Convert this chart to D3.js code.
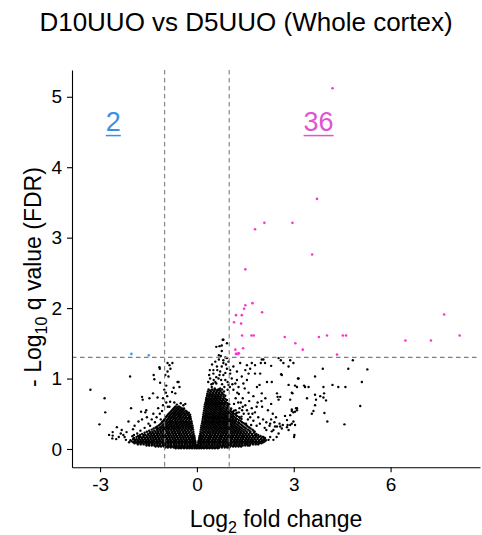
<!DOCTYPE html>
<html>
<head>
<meta charset="utf-8">
<script src="https://d3js.org/d3.v7.min.js"></script>
<style>
 body {margin: 0; background: #fff;}
 text {font-family: 'Liberation Sans', Arial, sans-serif;}
</style>
</head>
<body onload="init()">
<svg width=482 height=535></svg>
<script>

// axis ticks
const xTicks = [-3, 0, 3, 6];
const yTicks = [0, 1, 2, 3, 4, 5];

// cut-offs (log2 FC and -log10 FDR)
const fcCut = [-1, 1];
const qCut = 1.301;

// significant genes, [log2FC, -log10 q]
const upPts = [
 [4.20,5.12],[3.72,3.55],[2.09,3.21],[2.96,3.21],[1.80,3.12],[3.57,2.76],[1.50,2.55],
 [1.72,2.07],[1.50,2.04],[1.46,1.99],[1.21,1.90],[1.39,1.90],[2.02,1.94],[1.15,1.80],
 [1.37,1.78],[7.66,1.91],[1.40,1.61],[1.69,1.61],[1.76,1.61],[2.72,1.59],[3.78,1.59],
 [4.03,1.61],[4.52,1.61],[4.62,1.61],[6.46,1.54],[7.25,1.54],[8.14,1.61],[3.05,1.50],
 [3.28,1.41],[1.19,1.41],[1.43,1.43],[1.21,1.35],[1.27,1.35],[4.34,1.34],[1.24,1.35],
 [1.30,1.36]
];
const downPts = [[-2.03,1.35],[-1.49,1.33]];

// non-significant genes: dense core read row by row, [-log10 q, [log2FC...]]
const denseRows = [
 [0.01,[-0.66,-0.57,-0.49,-0.4,-0.31,-0.23,-0.15,-0.07,0,0.07,0.14,0.22,0.31,0.39,0.48,0.56,0.65]],
 [0.022,[-0.98,-0.9,-0.81,-0.72,-0.64,-0.55,-0.47,-0.38,-0.3,-0.22,-0.14,-0.06,0.02,0.1,0.18,0.26,0.35,0.43,0.52,0.6,0.69,0.77,0.86,0.94,1.0]],
 [0.035,[-1.28,-1.19,-1.11,-1.02,-0.94,-0.85,-0.77,-0.68,-0.6,-0.51,-0.43,-0.35,-0.26,-0.18,-0.1,-0.03,0.03,0.1,0.18,0.27,0.35,0.44,0.52,0.61,0.69,0.78,0.86,0.95,1.03,1.12,1.2,1.29,1.37]],
 [0.05,[-1.56,-1.48,-1.4,-1.32,-1.23,-1.15,-1.06,-0.98,-0.89,-0.81,-0.72,-0.64,-0.55,-0.47,-0.39,-0.3,-0.22,-0.14,-0.07,-0.02,0.02,0.07,0.14,0.23,0.31,0.4,0.48,0.57,0.65,0.74,0.82,0.91,0.99,1.08,1.16,1.25,1.33,1.42,1.5,1.58,1.63]],
 [0.065,[-1.83,-1.74,-1.65,-1.56,-1.48,-1.39,-1.31,-1.22,-1.14,-1.05,-0.97,-0.88,-0.8,-0.71,-0.63,-0.54,-0.46,-0.37,-0.29,-0.2,-0.12,-0.04,0.04,0.12,0.2,0.29,0.37,0.46,0.54,0.63,0.71,0.8,0.88,0.97,1.05,1.14,1.22,1.31,1.39,1.48,1.56,1.65,1.74,1.82,1.9]],
 [0.08,[-1.93,-1.84,-1.75,-1.66,-1.57,-1.49,-1.4,-1.32,-1.23,-1.15,-1.06,-0.98,-0.89,-0.81,-0.72,-0.64,-0.55,-0.47,-0.38,-0.3,-0.21,-0.13,-0.06,0.06,0.13,0.21,0.3,0.38,0.47,0.55,0.64,0.72,0.81,0.89,0.98,1.06,1.15,1.23,1.32,1.4,1.49,1.57,1.66,1.74,1.83,1.92,2.0]],
 [0.095,[-2.1,-1.97,-1.88,-1.79,-1.7,-1.61,-1.53,-1.44,-1.36,-1.27,-1.19,-1.1,-1.02,-0.93,-0.85,-0.76,-0.68,-0.59,-0.51,-0.42,-0.34,-0.25,-0.17,-0.09,-0.045,0.045,0.09,0.17,0.25,0.34,0.42,0.51,0.59,0.68,0.76,0.85,0.93,1.02,1.1,1.19,1.27,1.36,1.44,1.53,1.61,1.7,1.79,1.88,1.97,2.06]],
 [0.11,[-2.02,-1.92,-1.83,-1.75,-1.66,-1.57,-1.49,-1.4,-1.32,-1.23,-1.15,-1.06,-0.98,-0.89,-0.81,-0.72,-0.64,-0.55,-0.47,-0.38,-0.3,-0.21,-0.13,-0.06,0.06,0.13,0.21,0.3,0.38,0.47,0.55,0.64,0.72,0.81,0.89,0.98,1.06,1.15,1.23,1.32,1.4,1.49,1.57,1.66,1.74,1.83,1.92,2.01,2.1]],
 [0.125,[-2.06,-1.93,-1.83,-1.74,-1.66,-1.57,-1.49,-1.4,-1.32,-1.23,-1.15,-1.06,-0.98,-0.89,-0.81,-0.72,-0.64,-0.55,-0.47,-0.38,-0.3,-0.21,-0.13,-0.06,0.06,0.13,0.21,0.3,0.38,0.47,0.55,0.64,0.72,0.81,0.89,0.98,1.06,1.15,1.23,1.32,1.4,1.49,1.57,1.66,1.74,1.83,1.93,2.04,2.14]],
 [0.14,[-1.98,-1.87,-1.78,-1.69,-1.61,-1.52,-1.44,-1.35,-1.27,-1.18,-1.1,-1.01,-0.93,-0.84,-0.76,-0.67,-0.59,-0.5,-0.42,-0.33,-0.25,-0.17,-0.1,0.1,0.17,0.25,0.34,0.42,0.51,0.59,0.68,0.76,0.85,0.93,1.02,1.1,1.19,1.27,1.36,1.44,1.53,1.61,1.7,1.79,1.88,1.98,2.08]],
 [0.155,[-1.95,-1.8,-1.7,-1.6,-1.52,-1.43,-1.35,-1.26,-1.18,-1.09,-1.01,-0.92,-0.84,-0.75,-0.67,-0.58,-0.5,-0.41,-0.33,-0.24,-0.15,-0.07,0.07,0.15,0.24,0.33,0.41,0.5,0.58,0.67,0.75,0.84,0.92,1.01,1.09,1.18,1.26,1.35,1.43,1.52,1.6,1.69,1.78,1.88,2.0,2.11]],
 [0.17,[-1.87,-1.74,-1.65,-1.55,-1.47,-1.38,-1.3,-1.21,-1.13,-1.04,-0.96,-0.87,-0.79,-0.7,-0.62,-0.53,-0.45,-0.36,-0.28,-0.2,-0.12,0.12,0.2,0.28,0.37,0.45,0.54,0.62,0.71,0.79,0.88,0.96,1.05,1.13,1.22,1.3,1.39,1.47,1.56,1.64,1.73,1.82,1.92,2.03]],
 [0.185,[-1.82,-1.66,-1.56,-1.46,-1.38,-1.29,-1.21,-1.12,-1.04,-0.95,-0.87,-0.78,-0.7,-0.61,-0.53,-0.44,-0.36,-0.27,-0.17,-0.08,0.08,0.17,0.27,0.36,0.44,0.53,0.61,0.7,0.78,0.87,0.95,1.04,1.12,1.21,1.29,1.38,1.46,1.55,1.64,1.74,1.85,1.97]],
 [0.2,[-1.76,-1.6,-1.5,-1.41,-1.33,-1.24,-1.16,-1.07,-0.99,-0.9,-0.82,-0.73,-0.65,-0.56,-0.48,-0.39,-0.31,-0.22,-0.13,0.13,0.22,0.31,0.4,0.48,0.57,0.65,0.74,0.82,0.91,0.99,1.08,1.16,1.25,1.33,1.42,1.51,1.6,1.7,1.8,1.9]],
 [0.215,[-1.7,-1.52,-1.42,-1.33,-1.24,-1.16,-1.07,-0.99,-0.9,-0.82,-0.73,-0.65,-0.56,-0.48,-0.39,-0.3,-0.2,-0.1,0.1,0.2,0.3,0.39,0.48,0.56,0.65,0.73,0.82,0.9,0.99,1.07,1.16,1.24,1.33,1.41,1.5,1.6,1.71,1.84]],
 [0.23,[-1.62,-1.46,-1.37,-1.28,-1.2,-1.11,-1.03,-0.94,-0.86,-0.77,-0.69,-0.6,-0.52,-0.43,-0.35,-0.26,-0.16,0.16,0.26,0.35,0.43,0.52,0.61,0.69,0.78,0.86,0.95,1.03,1.12,1.2,1.29,1.37,1.46,1.55,1.65,1.77]],
 [0.245,[-1.55,-1.38,-1.28,-1.19,-1.1,-1.02,-0.93,-0.85,-0.76,-0.68,-0.59,-0.51,-0.42,-0.33,-0.23,-0.11,0.11,0.22,0.32,0.41,0.5,0.58,0.67,0.75,0.84,0.92,1.01,1.09,1.18,1.26,1.35,1.44,1.54,1.66,1.79]],
 [0.26,[-1.48,-1.32,-1.22,-1.13,-1.05,-0.96,-0.88,-0.79,-0.71,-0.62,-0.54,-0.45,-0.37,-0.28,-0.18,0.17,0.27,0.36,0.45,0.53,0.62,0.7,0.79,0.87,0.96,1.04,1.13,1.21,1.3,1.39,1.5,1.62,1.75]],
 [0.275,[-1.4,-1.24,-1.15,-1.06,-0.98,-0.89,-0.81,-0.72,-0.64,-0.55,-0.47,-0.38,-0.29,-0.2,-0.12,0.12,0.21,0.3,0.39,0.48,0.57,0.65,0.74,0.82,0.91,0.99,1.08,1.16,1.25,1.34,1.45,1.58,1.72]],
 [0.29,[-1.34,-1.2,-1.1,-1.02,-0.93,-0.85,-0.76,-0.68,-0.59,-0.51,-0.42,-0.33,-0.24,-0.16,0.17,0.26,0.35,0.44,0.53,0.61,0.7,0.78,0.87,0.95,1.04,1.12,1.21,1.3,1.4,1.52,1.66]],
 [0.305,[-1.28,-1.14,-1.05,-0.96,-0.88,-0.79,-0.71,-0.62,-0.54,-0.45,-0.36,-0.27,-0.18,-0.13,0.13,0.22,0.31,0.4,0.49,0.57,0.66,0.74,0.83,0.91,1.0,1.08,1.17,1.26,1.36,1.48,1.62]],
 [0.32,[-1.23,-1.1,-1.01,-0.93,-0.84,-0.76,-0.67,-0.59,-0.5,-0.42,-0.33,-0.25,-0.18,0.18,0.27,0.36,0.45,0.54,0.62,0.71,0.79,0.88,0.96,1.05,1.13,1.22,1.32,1.44,1.57]],
 [0.335,[-1.18,-1.06,-0.97,-0.89,-0.8,-0.72,-0.63,-0.55,-0.46,-0.38,-0.3,-0.22,-0.14,0.14,0.23,0.32,0.41,0.5,0.58,0.67,0.75,0.84,0.92,1.01,1.09,1.18,1.28,1.4,1.54]],
 [0.35,[-1.14,-1.03,-0.95,-0.86,-0.78,-0.69,-0.61,-0.52,-0.44,-0.35,-0.27,-0.2,0.2,0.29,0.38,0.47,0.55,0.64,0.72,0.81,0.89,0.98,1.06,1.15,1.25,1.36,1.5]],
 [0.365,[-1.1,-1.0,-0.92,-0.83,-0.75,-0.66,-0.58,-0.49,-0.41,-0.32,-0.24,-0.16,0.16,0.25,0.34,0.43,0.51,0.6,0.68,0.77,0.85,0.94,1.02,1.11,1.2,1.31,1.45]],
 [0.38,[-1.08,-0.98,-0.89,-0.81,-0.72,-0.64,-0.55,-0.47,-0.38,-0.3,-0.21,0.21,0.3,0.39,0.48,0.56,0.65,0.73,0.82,0.9,0.99,1.08,1.17,1.28,1.4]],
 [0.395,[-1.05,-0.95,-0.86,-0.78,-0.69,-0.61,-0.52,-0.44,-0.35,-0.26,-0.17,0.17,0.26,0.35,0.44,0.52,0.61,0.69,0.78,0.86,0.95,1.03,1.12,1.22,1.36]],
 [0.41,[-1.02,-0.93,-0.84,-0.76,-0.67,-0.59,-0.5,-0.42,-0.33,-0.24,0.23,0.31,0.4,0.49,0.57,0.66,0.74,0.83,0.91,1.0,1.09,1.18,1.3]],
 [0.425,[-1.0,-0.9,-0.82,-0.73,-0.65,-0.56,-0.48,-0.39,-0.3,-0.19,0.18,0.27,0.36,0.45,0.53,0.62,0.7,0.79,0.87,0.96,1.04,1.13,1.24,1.38]],
 [0.44,[-0.98,-0.88,-0.8,-0.71,-0.63,-0.54,-0.46,-0.37,-0.28,-0.22,0.24,0.32,0.41,0.5,0.58,0.67,0.75,0.84,0.92,1.01,1.1,1.2,1.33]],
 [0.455,[-0.96,-0.86,-0.77,-0.69,-0.6,-0.52,-0.43,-0.34,-0.25,-0.2,0.19,0.28,0.37,0.46,0.54,0.63,0.71,0.8,0.88,0.97,1.06,1.16,1.3]],
 [0.47,[-0.93,-0.84,-0.75,-0.67,-0.58,-0.5,-0.41,-0.33,-0.24,0.25,0.33,0.42,0.51,0.59,0.68,0.76,0.85,0.93,1.02,1.12,1.24]],
 [0.485,[-0.9,-0.81,-0.72,-0.64,-0.55,-0.47,-0.38,-0.29,-0.21,0.2,0.29,0.38,0.47,0.55,0.64,0.72,0.81,0.89,0.98,1.08,1.2]],
 [0.5,[-0.87,-0.78,-0.7,-0.61,-0.53,-0.44,-0.36,-0.28,0.26,0.34,0.43,0.52,0.6,0.69,0.77,0.86,0.94,1.04,1.14,1.2]],
 [0.515,[-0.84,-0.75,-0.67,-0.58,-0.5,-0.41,-0.32,-0.25,0.21,0.3,0.39,0.48,0.56,0.65,0.73,0.82,0.9,0.99,1.1,1.24]],
 [0.53,[-0.81,-0.72,-0.64,-0.55,-0.47,-0.39,-0.31,0.27,0.35,0.44,0.53,0.61,0.7,0.78,0.87,0.96,1.06,1.12]],
 [0.545,[-0.78,-0.69,-0.61,-0.52,-0.44,-0.35,0.22,0.31,0.4,0.49,0.57,0.66,0.74,0.83,0.92,1.02,1.15]],
 [0.56,[-0.75,-0.66,-0.58,-0.49,-0.42,0.27,0.36,0.45,0.54,0.62,0.71,0.79,0.89,0.99,1.05]],
 [0.575,[-0.72,-0.63,-0.55,-0.46,-0.4,0.23,0.32,0.41,0.5,0.58,0.67,0.75,0.84,0.94,1.06]],
 [0.59,[-0.69,-0.6,-0.51,0.28,0.37,0.46,0.55,0.63,0.72,0.81,0.91,0.98]],
 [0.605,[-0.66,-0.56,0.24,0.33,0.42,0.51,0.59,0.68,0.76,0.86,0.97]],
 [0.62,[0.29,0.38,0.47,0.56,0.64,0.73,0.83,0.94]],
 [0.635,[0.25,0.34,0.43,0.52,0.6,0.69,0.78,0.88,1.0]],
 [0.65,[0.31,0.4,0.49,0.57,0.66,0.74,0.84,0.95]],
 [0.665,[0.27,0.36,0.45,0.53,0.62,0.7,0.79,0.9]],
 [0.68,[0.32,0.41,0.5,0.59,0.67,0.76,0.86]],
 [0.695,[0.28,0.37,0.46,0.55,0.63,0.72,0.81,0.93]],
 [0.71,[0.33,0.42,0.51,0.6,0.69,0.79,0.88]],
 [0.725,[0.29,0.38,0.47,0.56,0.65,0.74,0.84]],
 [0.74,[0.35,0.44,0.53,0.62,0.71,0.82]],
 [0.755,[0.31,0.4,0.49,0.58,0.67,0.76,0.88]],
 [0.77,[0.37,0.46,0.55,0.64,0.74,0.83]],
 [0.785,[0.32,0.42,0.51,0.6,0.69,0.79]],
 [0.8,[0.39,0.49,0.59,0.68,0.78]],
 [0.815,[0.34,0.44,0.54,0.63,0.73,0.84]],
 [0.83,[0.41,0.52,0.62,0.72]],
 [0.845,[0.36,0.47,0.57,0.67,0.78]]
];

// non-significant genes outside the core, [log2FC, -log10 q]
const scatterPts = [
 [-3.30,0.84],[-2.86,0.72],[-2.84,0.52],[-3.02,0.35],[-2.07,1.03],[-2.04,0.58],[-2.61,0.24],[-2.61,0.19],
 [-2.62,0.15],[-2.48,0.31],[-2.33,0.27],[-2.28,0.2],[-2.24,0.17],[-2.12,0.39],[-1.98,0.28],[-1.95,0.2],
 [-1.9,0.13],[-1.81,0.39],[-1.70,0.74],[-1.68,0.70],[-1.73,0.53],[-1.60,0.52],[-1.57,0.55],[-1.47,0.72],
 [-1.45,0.33],[-1.34,1.05],[-1.32,0.99],[-1.36,0.79],[-1.22,0.73],[-1.14,0.94],[-1.16,1.16],[-1.08,0.54],
 [-1.01,0.84],[-0.96,0.80],[-0.91,1.22],[-0.76,1.22],[-0.88,1.03],[-0.85,1.19],[-0.83,0.67],[-0.85,0.60],
 [-0.67,0.79],[-0.72,0.87],[-0.57,0.95],[-0.54,0.88],[-0.77,0.81],[-0.62,0.63],[-0.5,0.65],[-0.42,0.62],
 [-0.36,0.64],[-0.91,1.10],[-1.15,1.14],[-0.82,1.14],[-0.98,1.05],[-0.60,0.95],[-0.95,0.9],[-0.92,0.75],
 [-1.5,0.36],[-1.62,0.3],[-1.75,0.26],[-1.4,0.42],[-1.25,0.45],[-1.3,0.38],[-1.55,0.45],[-1.15,0.5],
 [-1.2,0.58],[-1.05,0.62],[-0.95,0.66],[-1.85,0.22],[-2.0,0.18],[-2.2,0.13],[-2.36,0.22],[-2.18,0.24],
 [-1.93,0.33],[-1.7,0.42],[-1.05,0.72],[-2.5,0.14],[-2.72,0.2],[-2.42,0.17],[-1.35,0.5],[-1.12,0.42],
 [-1.25,0.3],[-1.45,0.24],[-1.65,0.2],[-1.78,0.17],[-0.7,0.66],[-0.9,0.6],
 [0.80,1.55],[0.70,1.46],[0.60,1.45],[0.77,1.39],[0.68,1.33],[0.74,1.32],[0.88,1.30],[0.82,1.55],
 [0.77,1.47],[0.93,1.50],[1.34,1.22],[1.55,1.19],[1.70,1.22],[1.98,1.22],[2.53,1.29],[2.60,1.26],
 [2.89,1.26],[2.01,1.27],[1.50,1.12],[1.65,1.14],[1.60,1.07],[1.44,0.93],[1.55,0.98],[1.39,1.03],
 [1.80,1.07],[1.96,1.07],[2.17,0.95],[2.32,0.95],[1.86,0.88],[2.01,0.79],[2.48,0.79],[2.63,1.05],
 [2.84,0.91],[3.10,0.88],[3.15,1.00],[3.35,0.88],[3.46,0.88],[2.50,0.74],[2.53,0.70],[2.89,0.70],
 [3.41,0.72],[3.66,0.77],[3.69,0.70],[3.66,0.62],[3.10,0.55],[2.99,0.52],[2.89,0.48],[2.79,0.41],
 [2.89,0.34],[2.84,0.27],[2.56,0.36],[2.63,0.29],[3.01,0.17],[2.37,0.13],[2.53,0.22],[2.27,0.17],
 [2.37,0.27],[2.68,1.22],[2.84,1.17],[2.99,1.22],[2.61,1.06],[3.90,1.14],[4.69,1.14],[5.28,1.13],
 [4.83,1.26],[3.66,1.03],[3.13,1.00],[3.04,0.90],[3.32,0.90],[3.92,0.88],[4.20,0.91],[4.38,0.88],
 [4.60,0.88],[5.11,0.95],[2.94,0.80],[2.58,0.74],[3.82,0.75],[3.92,0.73],[4.00,0.69],[3.94,0.79],
 [3.10,0.58],[2.94,0.54],[3.04,0.53],[3.61,0.54],[3.56,0.50],[3.95,0.51],[5.06,0.61],[2.73,0.47],
 [2.99,0.39],[2.94,0.36],[2.81,0.34],[2.79,0.31],[2.66,0.34],[3.04,0.34],[4.04,0.39],[4.57,0.35],
 [3.02,0.20],[2.06,1.27],[2.11,1.22],[1.80,1.19],[2.30,1.18],[1.94,0.91],[2.96,0.79],[2.94,0.56],
 [3.07,0.58],[2.48,0.32],[2.58,0.32],[2.27,0.36],[2.42,0.32],[2.15,0.27],[2.32,0.25],[2.47,0.17],
 [2.22,0.13],[2.06,0.17],
 [0.82,1.26],[0.93,1.29],[0.57,1.24],[0.62,1.17],[0.77,1.17],[0.93,1.14],[0.72,1.10],[0.51,1.07],
 [0.82,1.05],[1.03,1.07],[0.67,1.00],[0.88,0.98],[1.08,1.00],[0.57,0.95],[0.98,0.91],[1.19,0.93],
 [0.46,0.88],[0.72,0.86],[1.13,0.84],[1.24,0.98],[1.29,0.88],[1.03,1.12],[1.13,1.17],[1.24,1.10],
 [0.41,1.00],[0.51,1.12],[0.82,1.22],[0.98,1.24],[0.60,0.93],[0.78,0.92],[0.95,0.95],[0.52,0.98],
 [0.70,1.05],[0.88,1.08],[0.63,1.12],[0.45,0.92],[1.10,0.92],[0.85,0.88],[0.66,0.84],[1.02,0.88],
 [0.55,0.86],[0.4,1.12],[0.47,1.2],[0.68,1.27],[0.9,1.2],[0.35,0.95],[0.38,1.05],[0.95,0.84],
 [0.6,1.02],[0.75,0.98],[0.5,0.93],
 [1.30,0.78],[1.42,0.72],[1.36,0.66],[1.50,0.62],[1.62,0.68],[1.55,0.55],[1.70,0.58],[1.45,0.50],
 [1.80,0.52],[1.65,0.45],[1.90,0.45],[1.75,0.40],[2.05,0.42],[1.95,0.36],[2.15,0.38],[1.85,0.33],
 [2.25,0.33],[2.10,0.30],[1.60,0.80],[1.75,0.75],[1.88,0.66],[2.02,0.60],[2.20,0.55],[2.35,0.50],
 [2.45,0.45],[2.30,0.42],[2.40,0.38],[1.48,0.86],[1.58,0.42],[1.38,0.46],[1.52,0.36],[1.68,0.34],
 [2.0,0.68],[2.12,0.72],[2.3,0.64],[1.32,0.58],[1.42,0.6],[1.28,0.66],[1.2,0.72],[1.25,0.8],
 [1.15,0.64],[1.2,0.55],[1.3,0.52],[1.4,0.55],[1.6,0.5],[1.85,0.6],[1.72,0.5]
];

function init() {

 var svg = d3.select('svg');

 var x = d3.scaleLinear().domain([-3.87, 8.77]).range([72, 480]);
 var y = d3.scaleLinear().domain([-0.26, 5.38]).range([467.3, 70]);

 var black = [];
 denseRows.forEach(function (r) {
  r[1].forEach(function (v) { black.push([v, r[0]]); });
 });
 black = black.concat(scatterPts);

 function dots(data, col, r) {
  svg.append('g')
   .selectAll('circle')
   .data(data)
   .enter()
    .append('circle')
     .attr('cx', function (d) { return x(d[0]); })
     .attr('cy', function (d) { return y(d[1]); })
     .attr('r', r)
     .style('fill', col);
 }
 dots(black, '#000', 1.2);
 dots(upPts, '#FF33CC', 1.3);
 dots(downPts, '#3399FF', 1.3);

 // cut-off lines
 var cut = svg.append('g')
  .attr('stroke', '#7f7f7f')
  .attr('stroke-width', 1.1)
  .attr('stroke-dasharray', '4.5,3.5');
 fcCut.forEach(function (v) {
  cut.append('line')
   .attr('x1', x(v)).attr('x2', x(v))
   .attr('y1', y.range()[1]).attr('y2', y.range()[0]);
 });
 cut.append('line')
  .attr('x1', x.range()[0]).attr('x2', x.range()[1])
  .attr('y1', y(qCut)).attr('y2', y(qCut));

 // axes
 var gx = svg.append('g')
  .attr('transform', 'translate(0,' + y.range()[0] + ')')
  .call(d3.axisBottom(x).tickValues(xTicks).tickSize(5).tickSizeOuter(0).tickPadding(5)
   .tickFormat(d3.format('d')));
 var gy = svg.append('g')
  .attr('transform', 'translate(' + x.range()[0] + ',0)')
  .call(d3.axisLeft(y).tickValues(yTicks).tickSize(5).tickSizeOuter(0).tickPadding(5)
   .tickFormat(d3.format('d')));
 [gx, gy].forEach(function (g) {
  g.attr('font-size', 19).attr('font-family', "'Liberation Sans', Arial, sans-serif");
  g.selectAll('path, line').attr('stroke', '#000').attr('stroke-width', 1.1);
  g.selectAll('text').attr('fill', '#000');
 });
 gx.selectAll('text').text(function (d) { return d < 0 ? '-' + Math.abs(d) : d; });

 // titles
 svg.append('text')
  .attr('x', 246).attr('y', 31)
  .attr('text-anchor', 'middle')
  .attr('font-size', 26)
  .text('D10UUO vs D5UUO (Whole cortex)');

 var xt = svg.append('text')
  .attr('x', 276).attr('y', 527)
  .attr('text-anchor', 'middle')
  .attr('font-size', 23);
 xt.append('tspan').text('Log');
 xt.append('tspan').attr('font-size', 16).attr('dy', 6).text('2');
 xt.append('tspan').attr('dy', -6).text(' fold change');

 var yt = svg.append('text')
  .attr('transform', 'translate(41,277) rotate(-90)')
  .attr('text-anchor', 'middle')
  .attr('font-size', 23);
 yt.append('tspan').text('- Log');
 yt.append('tspan').attr('font-size', 16).attr('dy', 6).text('10');
 yt.append('tspan').attr('dy', -6).text(' q value (FDR)');

 // counts of significant genes
 [[-2.59, downPts.length, '#3D8FE6'], [3.77, upPts.length, '#E055D0']].forEach(function (c) {
  var t = svg.append('text')
   .attr('x', x(c[0])).attr('y', y(4.52))
   .attr('text-anchor', 'middle')
   .attr('font-size', 27)
   .style('fill', c[2])
   .text(c[1]);
  var w = t.node().getBBox().width;
  svg.append('line')
   .attr('x1', x(c[0]) - w / 2).attr('x2', x(c[0]) + w / 2)
   .attr('y1', y(4.52) + 5).attr('y2', y(4.52) + 5)
   .attr('stroke', c[2]).attr('stroke-width', 1.5);
 });

}

</script>
</body>
</html>
